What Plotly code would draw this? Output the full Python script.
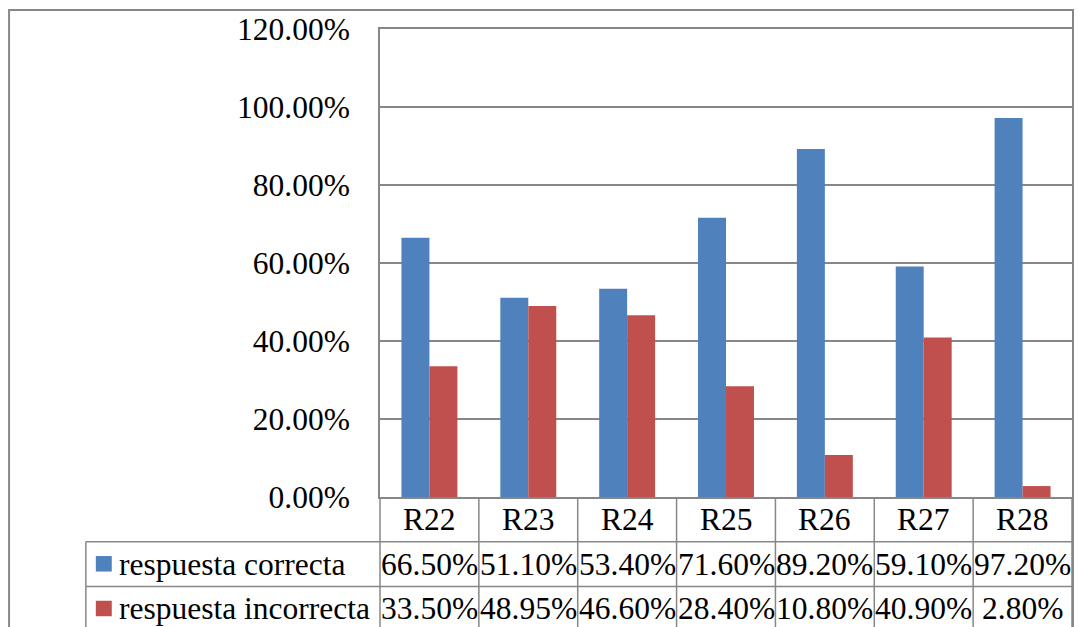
import plotly.graph_objects as go

# ---- data -------------------------------------------------------------
categories = ["R22", "R23", "R24", "R25", "R26", "R27", "R28"]
correcta = [66.50, 51.10, 53.40, 71.60, 89.20, 59.10, 97.20]
incorrecta = [33.50, 48.95, 46.60, 28.40, 10.80, 40.90, 2.80]
series_names = ["respuesta correcta", "respuesta incorrecta"]
series_colors = ["#4F81BD", "#C0504D"]
y_ticks = [0, 20, 40, 60, 80, 100, 120]

# ---- page geometry (pixels) -----------------------------------------
W, H = 1078, 627
L, R, T, B = 380, 1074, 29, 497          # plot area
ROW_H = 44.7                            # data table row height
TABLE_LEFT = 85                         # left edge of the series-name column
FONT = "Liberation Serif"
FS = 31.5
GRID = "#878787"


def px(x):
    """page x pixel -> paper coordinate"""
    return (x - L) / (R - L)


def py(y):
    """page y pixel -> paper coordinate"""
    return (B - y) / (B - T)


fmt = lambda v: f"{v:.2f}%"
n = len(categories)
series_values = [correcta, incorrecta]

fig = go.Figure()
for name, vals, col in zip(series_names, series_values, series_colors):
    fig.add_trace(go.Bar(
        x=categories, y=vals, name=name,
        marker=dict(color=col, line=dict(width=0)),
        showlegend=False,
    ))

shapes = []
annotations = []
line = dict(color=GRID, width=1.5)

# row boundaries of the data table (below the x axis)
row_tops = [B + k * ROW_H for k in range(4)]

# category header row + value rows: vertical separators at category edges
for k in range(n + 1):
    xp = k / n
    shapes.append(dict(type="line", xref="paper", yref="paper",
                       x0=xp, x1=xp, y0=py(B), y1=py(B + 3.5 * ROW_H), line=line))
# horizontal lines spanning the value area and name column
for k in (1, 2, 3):
    shapes.append(dict(type="line", xref="paper", yref="paper",
                       x0=px(TABLE_LEFT), x1=1, y0=py(row_tops[k]), y1=py(row_tops[k]),
                       line=line))
# left edge of the name column
shapes.append(dict(type="line", xref="paper", yref="paper",
                   x0=px(TABLE_LEFT), x1=px(TABLE_LEFT),
                   y0=py(row_tops[1]), y1=py(B + 3.5 * ROW_H), line=line))

# category labels
for i, c in enumerate(categories):
    annotations.append(dict(x=i, y=py(B + 0.5 * ROW_H), xref="x", yref="paper",
                            text=c, showarrow=False, xanchor="center", yanchor="middle",
                            font=dict(family=FONT, size=FS, color="black")))

# series rows: legend key, name and one formatted value per category
for r, (name, vals, col) in enumerate(zip(series_names, series_values, series_colors)):
    ymid = B + (1.5 + r) * ROW_H
    shapes.append(dict(type="rect", xref="paper", yref="paper",
                       x0=px(95), x1=px(111), y0=py(ymid - 8), y1=py(ymid + 7.5),
                       fillcolor=col, line=dict(width=0)))
    annotations.append(dict(x=px(116), y=py(ymid), xref="paper", yref="paper",
                            text=name, showarrow=False, xanchor="left", yanchor="middle",
                            font=dict(family=FONT, size=FS, color="black")))
    for i, v in enumerate(vals):
        annotations.append(dict(x=i, y=py(ymid), xref="x", yref="paper",
                                text=fmt(v), showarrow=False, xanchor="center",
                                yanchor="middle",
                                font=dict(family=FONT, size=FS, color="black")))

# outer chart frame
shapes.append(dict(type="rect", xref="paper", yref="paper",
                   x0=px(8), x1=px(1075), y0=py(10), y1=py(H + 40),
                   line=dict(color=GRID, width=2), fillcolor="rgba(0,0,0,0)"))

fig.update_layout(
    width=W, height=H,
    margin=dict(l=L, r=W - R, t=T, b=H - B, pad=0),
    paper_bgcolor="white", plot_bgcolor="white",
    barmode="group", bargap=0.434, bargroupgap=0,
    font=dict(family=FONT, size=FS, color="black"),
    shapes=shapes, annotations=annotations,
    xaxis=dict(
        range=[-0.5, n - 0.5], showticklabels=False, ticks="",
        showgrid=False, showline=True, linecolor=GRID, linewidth=1.5, mirror=True,
        zeroline=False,
    ),
    yaxis=dict(
        range=[0, 120], tickvals=y_ticks, ticktext=[fmt(v) for v in y_ticks],
        ticks="", ticklabelstandoff=22,
        tickfont=dict(family=FONT, size=FS, color="black"),
        showgrid=True, gridcolor=GRID, gridwidth=1.5,
        showline=True, linecolor=GRID, linewidth=1.5, mirror=True,
        zeroline=False,
    ),
)

fig.write_html("out.html")
